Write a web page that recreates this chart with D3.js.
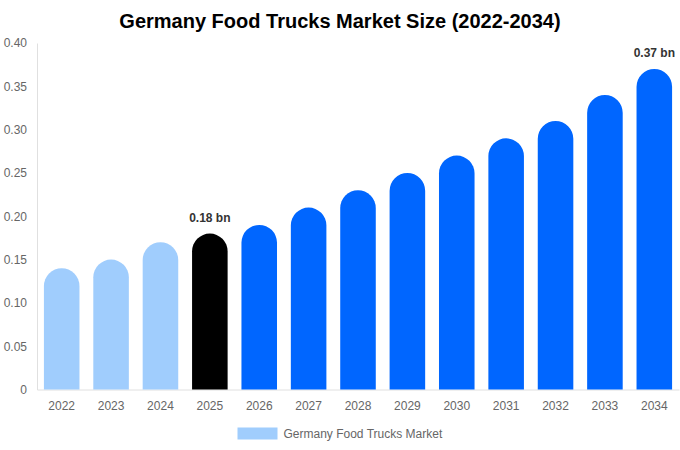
<!DOCTYPE html>
<html lang="en">
<head>
<meta charset="UTF-8"/>
<title>Germany Food Trucks Market Size (2022-2034)</title>
<script src="https://d3js.org/d3.v7.min.js"></script>
<style>
  body { margin: 0; background: #fff; }
  svg { display: block; font-family: "Liberation Sans", Arial, sans-serif; }
</style>
</head>
<body>
<div id="chart"></div>
<script>
// data
var years = ["2022", "2023", "2024", "2025", "2026", "2027", "2028", "2029", "2030", "2031", "2032", "2033", "2034"];
var values = [0.14, 0.15, 0.17, 0.18, 0.19, 0.21, 0.23, 0.25, 0.27, 0.29, 0.31, 0.34, 0.37];
var yTicks = [0, 0.05, 0.10, 0.15, 0.20, 0.25, 0.30, 0.35, 0.40];
var labelled = ["2025", "2034"];
var seriesName = "Germany Food Trucks Market";

var w = 680, h = 450;
var plotLeft = 37, plotRight = 679, plotTop = 43, plotBottom = 389.5;

var svg = d3.select("#chart").append("svg")
    .attr("width", w)
    .attr("height", h);

var x = d3.scaleBand()
    .domain(years)
    .range([plotLeft, plotRight])
    .paddingInner(0.28)
    .paddingOuter(0.14);

var y = d3.scaleLinear()
    .domain([0, 0.4])
    .range([plotBottom, plotTop]);

// colour by period: history light, current black, forecast blue
function barColor(d, i) {
    if (i < 3) return "#a0cdfd";
    if (i == 3) return "#000000";
    return "#0066ff";
}

// rounded-top bar
function barPath(d) {
    var x0 = x(d.year), bw = x.bandwidth();
    var yt = y(d.value), yb = y(0);
    var r = Math.min(bw / 2, yb - yt);
    return "M" + x0 + "," + yb +
        "V" + (yt + r) +
        "A" + r + "," + r + " 0 0 1 " + (x0 + r) + "," + yt +
        "H" + (x0 + bw - r) +
        "A" + r + "," + r + " 0 0 1 " + (x0 + bw) + "," + (yt + r) +
        "V" + yb + "Z";
}

var rows = years.map(function(yr, i) { return { year: yr, value: values[i] }; });

// y axis
var yAxis = d3.axisLeft(y)
    .tickValues(yTicks)
    .tickSize(0)
    .tickPadding(10)
    .tickFormat(function(d) { return d === 0 ? "0" : d3.format(".2f")(d); });

var gy = svg.append("g")
    .attr("transform", "translate(" + plotLeft + ",0)")
    .call(yAxis);
gy.select(".domain").attr("stroke", "#e0e0e0");
gy.selectAll("text")
    .attr("fill", "#666")
    .attr("font-size", "12px")
    .attr("font-family", "Liberation Sans, Arial, sans-serif");

// x axis
var xAxis = d3.axisBottom(x)
    .tickSize(0)
    .tickPadding(12);

var gx = svg.append("g")
    .attr("transform", "translate(0," + plotBottom + ")")
    .call(xAxis);
gx.select(".domain").attr("stroke", "#e0e0e0");
gx.selectAll("text")
    .attr("fill", "#666")
    .attr("font-size", "12px")
    .attr("font-family", "Liberation Sans, Arial, sans-serif");

// bars
svg.selectAll("path.bar")
    .data(rows)
    .enter()
    .append("path")
    .attr("class", "bar")
    .attr("d", barPath)
    .attr("fill", barColor);

// value labels
svg.selectAll("text.val")
    .data(rows.filter(function(d) { return labelled.indexOf(d.year) >= 0; }))
    .enter()
    .append("text")
    .attr("class", "val")
    .attr("x", function(d) { return x(d.year) + x.bandwidth() / 2; })
    .attr("y", function(d) { return y(d.value) - 12; })
    .attr("text-anchor", "middle")
    .attr("font-size", "12px")
    .attr("font-weight", "bold")
    .attr("fill", "#333")
    .text(function(d) { return d3.format(".2f")(d.value) + " bn"; });

// title
svg.append("text")
    .attr("x", w / 2)
    .attr("y", 28)
    .attr("text-anchor", "middle")
    .attr("font-size", "20px")
    .attr("font-weight", "bold")
    .attr("fill", "#000")
    .text("Germany Food Trucks Market Size (2022-2034)");

// legend
var lg = svg.append("g");
lg.append("rect")
    .attr("x", 237.5)
    .attr("y", 427.5)
    .attr("width", 40)
    .attr("height", 12)
    .attr("fill", "#a0cdfd");
lg.append("text")
    .attr("x", 283.5)
    .attr("y", 437.5)
    .attr("font-size", "12px")
    .attr("fill", "#666")
    .text(seriesName);
</script>
</body>
</html>
